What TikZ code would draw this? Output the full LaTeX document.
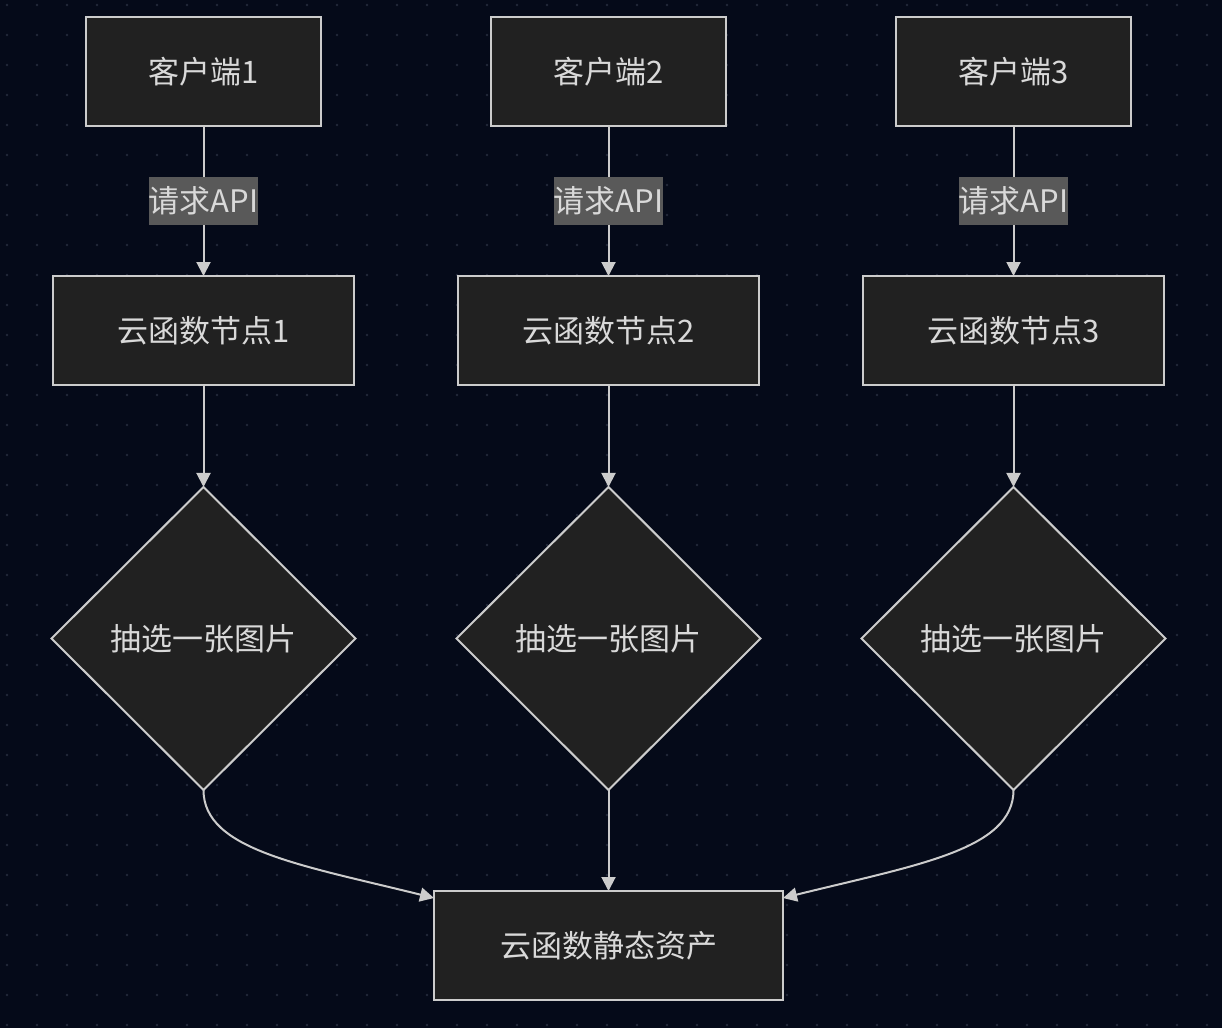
\documentclass[tikz,border=0pt]{standalone}
\usepackage{fontspec}
\newfontfamily\cjk{Noto Sans CJK SC}
\usepackage{tikz}
\usetikzlibrary{shapes,arrows.meta,matrix}
\definecolor{bgc}{HTML}{050A19}
\definecolor{dotc}{HTML}{22283A}
\definecolor{nodec}{HTML}{212121}
\definecolor{linec}{HTML}{CCCCCC}
\definecolor{textc}{HTML}{D9D9D9}
\definecolor{lblc}{HTML}{595959}

\begin{document}
\begin{tikzpicture}[
box/.style={draw=linec,fill=nodec,line width=2pt,
minimum height=109pt,inner sep=0pt,text=textc,
font=\cjk\fontsize{31}{31}\selectfont},
choice/.style={diamond,draw=linec,fill=nodec,line width=2pt,
minimum width=304pt,minimum height=303pt,inner sep=0pt,text=textc,
font=\cjk\fontsize{31}{31}\selectfont},
lbl/.style={fill=lblc,text=textc,inner xsep=0pt,inner ysep=0pt,
minimum height=48pt,font=\cjk\fontsize{31}{31}\selectfont},
flow/.style={draw=linec,line width=2pt,
-{Triangle[length=14pt,width=14pt]}}]
\useasboundingbox (0,0) rectangle (1222pt,-1028pt);
\fill[bgc] (0,0) rectangle (1222pt,-1028pt);
\foreach \i in {0,...,40}
  \foreach \j in {0,...,34}
    \fill[dotc] (7pt+30pt*\i,-5pt-30pt*\j) circle (1.4pt);
\matrix[anchor=north west,inner sep=0pt,outer sep=0pt,
nodes={anchor=center},column sep=76.5pt,row sep=0pt] at (50.5pt,-16pt)
{
\node [box,minimum width=235pt] (c1) {客户端1}; &
\node [box,minimum width=235pt] (c2) {客户端2}; &
\node [box,minimum width=235pt] (c3) {客户端3}; \\[148pt]
\node [box,minimum width=301pt] (f1) {云函数节点1}; &
\node [box,minimum width=301pt] (f2) {云函数节点2}; &
\node [box,minimum width=301pt] (f3) {云函数节点3}; \\[100pt]
\node [choice] (d1) {抽选一张图片}; &
\node [choice] (d2) {抽选一张图片}; &
\node [choice] (d3) {抽选一张图片}; \\[99pt]
 & \node [box,minimum width=349pt] (assets) {云函数静态资产}; & \\
};
\foreach \i in {1,2,3} {
  \draw[flow] (c\i) -- node[lbl] {请求API} (f\i);
  \draw[flow] (f\i) -- (d\i);
}
\draw[flow] (d2) -- (assets);
\draw[flow] (d1.south) .. controls +(0,-60pt) and +(-133pt,33pt)
  .. ([yshift=-7pt]assets.north west);
\draw[flow] (d3.south) .. controls +(0,-60pt) and +(133pt,33pt)
  .. ([yshift=-7pt]assets.north east);
\end{tikzpicture}
\end{document}
